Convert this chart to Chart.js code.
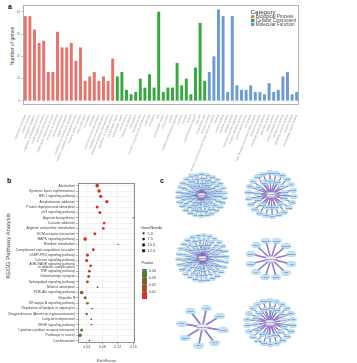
<!DOCTYPE html>
<html><head><meta charset="utf-8">
<script src="https://cdn.jsdelivr.net/npm/chart.js@4.4.1/dist/chart.umd.min.js"></script>
<style>
html,body{margin:0;padding:0;background:#fff;}
body{position:relative;width:357px;height:363px;overflow:hidden;font-family:"Liberation Sans",Arial,sans-serif;}
canvas{position:absolute;display:block}
.t{position:absolute;white-space:nowrap;color:#333;line-height:1}
.panel{font-weight:bold;font-size:7px;color:#111}
.vt{transform:translate(-50%,-50%) rotate(-90deg);}
</style></head><body>
<div class="t panel" style="left:8px;top:3px">a</div>
<div class="t panel" style="left:7px;top:177px">b</div>
<div class="t panel" style="left:160px;top:177px">c</div>
<div class="t vt" style="left:12px;top:46px;font-size:5px;color:#444">Number of genes</div>
<div class="t vt" style="left:8px;top:246px;font-size:6px;color:#444">KEGG Pathway Analysis</div>
<canvas id="ca" width="357" height="175" style="left:0;top:0"></canvas>
<canvas id="cb" width="162" height="193" style="left:0;top:170px"></canvas>
<script>
// ---------- Panel a data ----------
const categoryNames = ['Biological Process','Cellular Component','Molecular Function'];
const bpTerms = ['response to stimulus','cellular process','biological regulation','regulation of biological process','single-organism process','developmental process','multicellular organismal process','response to chemical','cell communication','signal transduction','regulation of response to stimulus','positive regulation of biological process','immune system process','cell proliferation','locomotion','cell death','response to external stimulus','regulation of cell proliferation','anatomical structure development','regulation of cellular process'];
const ccTerms = ['extracellular region','extracellular space','cell periphery','plasma membrane','cell surface','membrane part','intrinsic component of membrane','organelle','cytoplasm','cell','extracellular matrix','cell junction','vesicle','membrane-bounded organelle','synapse','nucleus','cytosol','endomembrane system','cell part','intracellular part'];
const mfTerms = ['receptor binding','transmembrane receptor protein tyrosine kinase activator activity','binding','protein binding','cytokine activity','catalytic activity','molecular function regulator','enzyme regulator activity','growth factor activity','ion binding','DNA binding transcription factor activity','transporter activity','structural molecule activity','hydrolase activity','kinase activity','oxidoreductase activity','calcium ion binding','signaling receptor activity','heparin binding','extracellular matrix binding'];
const bpCounts = [38,38,32,26,27,13,13,31,24,24,26,18,24,9,11,13,9,11,9,19];
const ccCounts = [11,13,5,3,4,10,6,12,6,40,4,6,6,17,7,10,3,15,35,9];
const mfCounts = [13,20,41,38,4,38,7,5,5,7,4,4,3,8,4,5,11,13,3,4];
const geneTicks = [0,10,20,30,40];

// ---------- Panel b data ----------
const pathways = ['Alcoholism','Systemic lupus erythematosus','HIF-1 signaling pathway','Amphetamine addiction','Protein digestion and absorption','p53 signaling pathway','Arginine biosynthesis','Cocaine addiction','Arginine and proline metabolism','ECM-receptor interaction','MAPK signaling pathway','Histidine metabolism','Complement and coagulation cascades','cGMP-PKG signaling pathway','Calcium signaling pathway','AGE-RAGE signaling pathway in diabetic complications','TNF signaling pathway','Glutamatergic synapse','Sphingolipid signaling pathway','Mineral absorption','PI3K-Akt signaling pathway','Hepatitis B','NF-kappa B signaling pathway','Regulation of lipolysis in adipocytes','Chagas disease (American trypanosomiasis)','Long-term depression','VEGF signaling pathway','Cytokine-cytokine receptor interaction','Pathways in cancer','Leishmaniasis'];
const richFactor = [0.067,0.072,0.076,0.092,0.067,0.074,0.160,0.085,0.083,0.061,0.036,0.121,0.057,0.042,0.040,0.050,0.047,0.045,0.042,0.068,0.027,0.036,0.042,0.054,0.040,0.052,0.052,0.027,0.023,0.047];
const geneNumber = [13,12,11,11,9,9,2,7,7,9,13,2,8,10,10,8,8,8,8,3,12,9,7,3,6,3,3,9,13,3];
const pValue = [0.002,0.003,0.004,0.004,0.005,0.006,0.007,0.007,0.007,0.008,0.004,0.008,0.008,0.008,0.009,0.011,0.013,0.015,0.016,0.025,0.020,0.024,0.026,0.030,0.029,0.032,0.032,0.036,0.040,0.035];
const richTicks = [0.04,0.08,0.12,0.16];
const sizeLegend = [5.0,7.5,10.0,12.5];
const pTicks = [0.04,0.03,0.02,0.01];

// ---------- Panel c data ----------
const hubNames = ['MSTRG.1842','MSTRG.5310','MSTRG.3907','MSTRG.7725','MSTRG.2268','MSTRG.6651'];
const genePool = ['Fos','Jun','Egr1','Atf3','Nr4a1','Ier3','Dusp1','Klf4','Myc','Ccl2','Cxcl1','Il6','Socs3','Hmox1','Serpine1','Thbs1','Col1a1','Col3a1','Fn1','Itga5','Lamb3','Spp1','Mmp3','Mmp9','Timp1','Vegfa','Hif1a','Pdk1','Ldha','Slc2a1','Pgk1','Eno1','Tnf','Nfkbia','Rela','Relb','Traf1','Birc3','Tnfaip3','Cdkn1a','Mdm2','Gadd45a','Bax','Ccng1','Sesn2','Pmaip1','Casp3','Casp8','Fas','Pik3r1','Akt3','Pdgfrb','Fgf2','Fgfr1','Igf1','Igf1r','Kit','Met','Egfr','Erbb2','Ereg','Areg','Hbegf','Prkca','Plcb4','Camk2a','Adcy8','Gria1','Grin2b','Grm5','Slc1a2','Ptgs2','Ppp3ca','Nos2','Arg1','Arg2','Odc1','Srm','Ass1','Asl','Hdc','Aldh1a1','C3','Cfb','F3','Plau','Plaur','Vwf','Kng1','H2-Ab1','Atp2b1','Ryr2','Itpr1','Calm1','Mapk3','Mapk8','Map3k8','Rasgrp1','Dusp6','Gnas','Gnai2','Prkg1','Pde5a','Npr1','Nppa','Ednra','Agt','Smpd3','Sphk1','S1pr1','Lipe','Pnpla2','Adrb3','Irs2','Cd36','Lpl','Cebpa','Pparg','Tgfb1','Smad3'];
const net1Targets = genePool.slice(0,69);
const net2Targets = genePool.slice(10,45);
const net3Targets = genePool.slice(51,120);
const net4Targets = ['Cdkn1a','Gadd45b','Ccnd1','Socs3','Ereg','Ptgs2','Nfkbia','Klf4','Hbegf','Dusp1','Ier3','Atf3'];
const net5Targets = ['Hmox1','Ccl2','Egr3','Plau','Nfkbiz','Ido1','Ereg','Fosl1'];
const net6Targets = genePool.slice(75,111);
const networkTargets = [net1Targets,net2Targets,net3Targets,net4Targets,net5Targets,net6Targets];

// ---------- helpers ----------
const FONT = '"Liberation Sans",Arial,sans-serif';
const framePlugin = {id:'frame', afterDraw(ch,args,o){const a=ch.chartArea,g=ch.ctx;g.save();g.strokeStyle=o.color||'#999';g.lineWidth=o.width||0.8;g.strokeRect(Math.round(a.left)+0.5,Math.round(a.top)+0.5,Math.round(a.right-a.left)-1,Math.round(a.bottom-a.top)-1);g.restore();}};
const lowC=[230,40,34], highC=[50,138,62], pMax=0.042;
function pColor(p){const t=Math.max(0,Math.min(1,p/pMax));const c=lowC.map((v,i)=>Math.round(v+(highC[i]-v)*t));return `rgb(${c[0]},${c[1]},${c[2]})`;}
function geneRadius(n){return 0.5*Math.sqrt(n);}

// ---------- Panel a ----------
const catColors=['#e8736c','#38a83e','#6c9bd4'];
const catCounts=[bpCounts,ccCounts,mfCounts];
const goTerms=[...bpTerms,...ccTerms,...mfTerms];
const datasetsA=categoryNames.map((name,ci)=>{const data=[];catCounts.forEach((arr,cj)=>arr.forEach(v=>data.push(cj===ci?v:null)));return {label:name,data,backgroundColor:catColors[ci],grouped:false,barPercentage:0.64,categoryPercentage:1};});
const catLegend={id:'catLegend',afterDraw(ch){const g=ch.ctx;g.save();g.textBaseline='middle';g.fillStyle='#333';g.font='6.2px '+FONT;g.fillText('Category',250.5,12.6);g.font='4.6px '+FONT;ch.data.datasets.forEach((d,i)=>{const y=16.8+3.8*i;g.fillStyle=d.backgroundColor;g.fillRect(251,y-1.6,3.4,3.2);g.fillStyle='#444';g.fillText(d.label,255.8,y+0.2);});g.restore();}};
new Chart(document.getElementById('ca'),{type:'bar',data:{labels:goTerms,datasets:datasetsA},
 options:{responsive:false,animation:false,devicePixelRatio:1,events:[],
  layout:{padding:{left:0,top:5,right:58,bottom:0}},
  plugins:{legend:{display:false},tooltip:{enabled:false},frame:{color:'#a8a8a8',width:0.9}},
  scales:{
   x:{ticks:{autoSkip:false,maxRotation:68,minRotation:68,font:{size:2.9,family:FONT},color:'#999',padding:1},grid:{display:false},border:{display:false},afterFit(s){s.height=70;}},
   y:{min:-1.8,max:43,afterBuildTicks(s){s.ticks=geneTicks.map(v=>({value:v}));},ticks:{font:{size:3,family:FONT},color:'#777',padding:1},grid:{drawOnChartArea:false,tickLength:2,color:'#999',lineWidth:0.6},border:{display:false},afterFit(s){s.width=23;}}
  }},
 plugins:[framePlugin,catLegend]});

// ---------- Panel b ----------
const nP=pathways.length;
const bLegend={id:'bLegend',afterDraw(ch){const g=ch.ctx;g.save();g.textBaseline='middle';g.fillStyle='#333';g.font='3.9px '+FONT;g.fillText('GeneNumber',141,57.5);
 sizeLegend.forEach((v,i)=>{const y=63.3+5.8*i;g.beginPath();g.arc(143.6,y,geneRadius(v),0,Math.PI*2);g.fillStyle='#222';g.fill();g.fillStyle='#444';g.fillText(v.toFixed(1),147.5,y+0.2);});
 g.fillStyle='#333';g.fillText('Pvalue',141.5,93);
 const top=99,bot=129,grad=g.createLinearGradient(0,bot,0,top);[0,0.25,0.5,0.75,1].forEach(t=>grad.addColorStop(t,pColor(t*pMax)));g.fillStyle=grad;g.fillRect(142,top,5,bot-top);
 g.font='3.6px '+FONT;pTicks.forEach(p=>{const y=bot-p/pMax*(bot-top);g.fillStyle='#fff';g.fillRect(142,y-0.2,1.2,0.5);g.fillRect(145.8,y-0.2,1.2,0.5);g.fillStyle='#444';g.fillText(p.toFixed(2),149,y+0.2);});
 g.restore();}};
new Chart(document.getElementById('cb'),{type:'scatter',
 data:{datasets:[{data:pathways.map((p,i)=>({x:richFactor[i],y:nP-i})),
   pointRadius:c=>geneRadius(geneNumber[c.dataIndex]),pointBackgroundColor:c=>pColor(pValue[c.dataIndex]),pointBorderWidth:0,pointHoverRadius:0}]},
 options:{responsive:false,animation:false,devicePixelRatio:1,events:[],
  layout:{padding:{left:0,top:13,right:27,bottom:0}},
  plugins:{legend:{display:false},tooltip:{enabled:false},frame:{color:'#777',width:0.8}},
  scales:{
   x:{type:'linear',min:0.0176,max:0.1645,afterBuildTicks(s){s.ticks=richTicks.map(v=>({value:v}));},ticks:{autoSkip:false,font:{size:3.6,family:FONT},color:'#555',padding:0.5,callback:v=>v.toFixed(2)},grid:{color:'#e4e4e4',lineWidth:0.5,tickLength:1.5,tickColor:'#666'},border:{display:false},title:{display:true,text:'RichFactor',font:{size:4,family:FONT},color:'#444',padding:{top:1,bottom:0}},afterFit(s){s.height=20;}},
   y:{type:'linear',min:0.55,max:30.5,afterBuildTicks(s){s.ticks=pathways.map((p,i)=>({value:nP-i}));},ticks:{autoSkip:false,font:{size:3.4,family:FONT,lineHeight:1},color:'#444',padding:1,callback:v=>{const l=pathways[nP-Math.round(v)];const k=l.indexOf(' in ');return l.length>45&&k>0?[l.slice(0,k),l.slice(k+1)]:l;}},grid:{color:'#e4e4e4',lineWidth:0.5,tickLength:2,tickColor:'#666'},border:{display:false},afterFit(s){s.width=78;}}
  }},
 plugins:[framePlugin,bLegend]});

// ---------- Panel c ----------
function ellipseImage(w,h,fill,stroke){const c=document.createElement('canvas');c.width=w;c.height=h;const g=c.getContext('2d');g.beginPath();g.ellipse(w/2,h/2,w/2-0.4,h/2-0.4,0,0,Math.PI*2);g.fillStyle=fill;g.fill();g.strokeStyle=stroke;g.lineWidth=0.5;g.stroke();return c;}
const nodeLabelPlugin={id:'nodeLabels',afterDatasetsDraw(ch){const g=ch.ctx;ch.data.datasets.forEach((d,i)=>{if(!d.nodeLabels)return;const meta=ch.getDatasetMeta(i);g.save();g.font=d.labelSize+'px '+FONT;g.fillStyle=d.labelColor;g.textAlign='center';g.textBaseline='middle';meta.data.forEach((pt,j)=>{g.fillText(d.nodeLabels[j],pt.x,pt.y+0.2,d.labelWidth);});g.restore();});}};
const netLayout=[
 {cx:201,cy:195,rx:27,ry:25,start:0.1,rings:[[1,26],[0.79,20],[0.58,14],[0.37,9]],nw:7,nh:4,hw:9,hh:5,ew:0.5,ec:'rgba(120,105,190,0.85)',fs:1.8},
 {cx:271,cy:194,rx:27,ry:26,start:0.2,rings:[[1,22],[0.62,13]],nw:8,nh:5,hw:11,hh:6,ew:1.0,ec:'#8c7cc8',fs:2},
 {cx:202,cy:258,rx:28,ry:27,start:0.3,rings:[[1,26],[0.79,20],[0.58,14],[0.37,9]],nw:7,nh:4,hw:9,hh:5,ew:0.5,ec:'rgba(120,105,190,0.85)',fs:1.8},
 {cx:271,cy:259,rx:25,ry:23,start:0.25,rings:[[1,12]],nw:10,nh:6,hw:13,hh:7,ew:1.6,ec:'#8f80cc',fs:2.3},
 {cx:202,cy:327,rx:25,ry:23,start:0.6,rings:[[1,8]],nw:11,nh:6,hw:13,hh:7,ew:1.8,ec:'#8f80cc',fs:2.4},
 {cx:270,cy:322,rx:27,ry:26,start:0.15,rings:[[1,22],[0.64,14]],nw:8,nh:5,hw:11,hh:6,ew:0.9,ec:'#8c7cc8',fs:2}
];
netLayout.forEach((L,ni)=>{
 const targets=networkTargets[ni];
 const W=Math.ceil(2*L.rx+L.nw+4),H=Math.ceil(2*L.ry+L.nh+4);
 const cv=document.createElement('canvas');cv.width=W;cv.height=H;cv.style.left=(L.cx-W/2)+'px';cv.style.top=(L.cy-H/2)+'px';document.body.appendChild(cv);
 const nodes=[];let k=0;
 L.rings.forEach(([f,n],ri)=>{for(let j=0;j<n&&k<targets.length;j++,k++){const a=L.start+ri*0.45+2*Math.PI*j/n;nodes.push({x:f*L.rx*Math.cos(a),y:f*L.ry*Math.sin(a)});}});
 const edges=[];nodes.forEach(p=>{edges.push({x:0,y:0},p);});
 const nodeImg=ellipseImage(L.nw,L.nh,'#c4e5f7','#86bde3');
 const hubImg=ellipseImage(L.hw,L.hh,'#eeebf5','#b7add8');
 new Chart(cv,{type:'scatter',data:{datasets:[
   {data:[{x:0,y:0}],pointStyle:hubImg,pointRadius:3,order:0,nodeLabels:[hubNames[ni]],labelSize:L.fs,labelColor:'#3a3a5a',labelWidth:L.hw-1},
   {data:nodes,pointStyle:nodeImg,pointRadius:3,order:1,nodeLabels:targets,labelSize:L.fs,labelColor:'#2f4f78',labelWidth:L.nw-1},
   {data:edges,showLine:true,pointRadius:0,borderColor:L.ec,borderWidth:L.ew,order:2}
  ]},
  options:{responsive:false,animation:false,devicePixelRatio:1,events:[],layout:{padding:0},
   plugins:{legend:{display:false},tooltip:{enabled:false}},
   scales:{x:{display:false,min:-W/2,max:W/2},y:{display:false,min:-H/2,max:H/2}}},
  plugins:[nodeLabelPlugin]});
});
</script>
</body></html>
